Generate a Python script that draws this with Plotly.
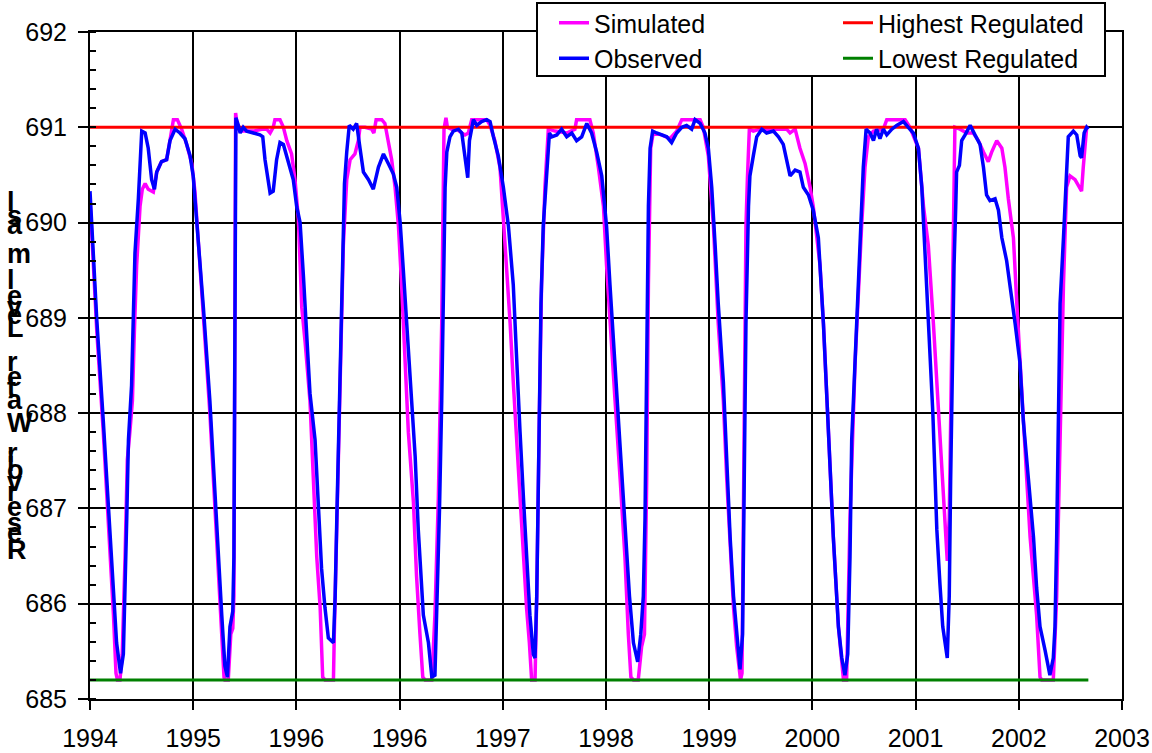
import pandas as pd
import plotly.graph_objects as go

# ---------------- data ----------------
START_DATE = "1994-01-01"
TICK_STEP_DAYS = 365
TICK_LABELS = ["1994", "1995", "1996", "1996", "1997", "1998", "1999", "2000", "2001", "2002", "2003"]

Y_TITLE = "Reservoir Water Level masl"
HIGHEST_REGULATED = 691.0
LOWEST_REGULATED = 685.2

# Observed water level (days since START_DATE, level in masl)
OBS_DAYS = [
    0, 24, 47, 65, 83, 94, 108, 118, 130, 136,
    147, 153, 159, 171, 177, 183, 195, 206, 218, 228,
    236, 253, 271, 283, 301, 318, 336, 354, 365, 377,
    401, 424, 442, 454, 466, 477, 486, 495, 505, 509,
    513, 516, 525, 531, 542, 554, 578, 601, 611, 619,
    637, 648, 660, 672, 684, 696, 707, 719, 731, 743,
    755, 766, 778, 796, 808, 819, 831, 843, 861, 867,
    873, 882, 890, 900, 908, 917, 931, 943, 955, 967,
    985, 1002, 1020, 1038, 1055, 1073, 1085, 1097, 1108, 1120,
    1138, 1150, 1161, 1179, 1197, 1209, 1220, 1226, 1236, 1244,
    1250, 1256, 1262, 1273, 1285, 1303, 1315, 1326, 1336, 1342,
    1350, 1356, 1368, 1385, 1403, 1415, 1427, 1444, 1462, 1480,
    1497, 1509, 1521, 1533, 1544, 1556, 1568, 1574, 1580, 1589,
    1595, 1603, 1615, 1625, 1633, 1651, 1668, 1686, 1704, 1721,
    1739, 1757, 1774, 1792, 1810, 1827, 1839, 1857, 1875, 1892,
    1908, 1922, 1937, 1948, 1957, 1963, 1969, 1975, 1981, 1990,
    2004, 2022, 2040, 2057, 2075, 2093, 2110, 2128, 2140, 2158,
    2175, 2187, 2199, 2211, 2222, 2240, 2252, 2264, 2276, 2287,
    2299, 2308, 2313, 2320, 2329, 2334, 2346, 2358, 2376, 2393,
    2417, 2435, 2452, 2464, 2476, 2494, 2511, 2523, 2541, 2558,
    2576, 2594, 2606, 2617, 2629, 2647, 2659, 2670, 2680, 2688,
    2694, 2700, 2712, 2723, 2735, 2745, 2759, 2771, 2782, 2794,
    2806, 2818, 2836, 2853, 2877, 2894, 2912, 2930, 2942, 2948,
    2965, 2981, 2989, 2995, 3006, 3016, 3032, 3039, 3044, 3050,
    3056, 3062, 3065, 3075, 3083, 3095, 3113, 3130, 3148, 3160,
    3171, 3183, 3201, 3213, 3225, 3242, 3254, 3272, 3289, 3301,
    3319, 3337, 3348, 3360, 3378, 3395, 3407, 3413, 3419, 3425,
    3431, 3443, 3454, 3460, 3478, 3490, 3502, 3507, 3516, 3525,
    3531,
]
OBS_LEVEL = [
    690.33, 688.98, 687.92, 686.98, 686.08, 685.59, 685.27, 685.47, 686.90, 687.72,
    688.29, 688.94, 689.68, 690.25, 690.58, 690.96, 690.94, 690.78, 690.45, 690.35,
    690.53, 690.64, 690.66, 690.86, 690.98, 690.94, 690.88, 690.70, 690.49, 690.04,
    689.11, 688.13, 687.11, 686.49, 685.88, 685.35, 685.23, 685.76, 685.92, 686.49,
    688.94, 691.10, 691.02, 690.94, 691.00, 690.96, 690.94, 690.92, 690.90, 690.66,
    690.31, 690.33, 690.66, 690.84, 690.82, 690.70, 690.58, 690.45, 690.17, 690.00,
    689.43, 688.78, 688.21, 687.72, 686.98, 686.37, 685.96, 685.64, 685.59, 686.08,
    686.90, 688.13, 689.35, 690.41, 690.74, 691.02, 690.98, 691.04, 690.78, 690.53,
    690.45, 690.35, 690.58, 690.72, 690.62, 690.51, 690.37, 690.00, 689.51, 688.94,
    688.00, 687.55, 686.78, 685.88, 685.59, 685.23, 685.25, 685.88, 686.98, 688.13,
    689.35, 690.37, 690.74, 690.90, 690.96, 690.98, 690.94, 690.70, 690.47, 690.86,
    691.02, 691.08, 691.02, 691.06, 691.08, 691.06, 690.90, 690.70, 690.37, 689.96,
    689.35, 688.53, 687.80, 687.11, 686.49, 685.88, 685.47, 685.43, 686.08, 687.72,
    689.15, 689.96, 690.58, 690.94, 690.90, 690.92, 690.98, 690.90, 690.94, 690.86,
    690.90, 691.04, 690.94, 690.74, 690.49, 689.96, 689.35, 688.53, 687.72, 686.90,
    686.08, 685.59, 685.39, 685.68, 686.08, 686.90, 688.33, 690.17, 690.78, 690.96,
    690.94, 690.92, 690.90, 690.84, 690.94, 691.00, 691.02, 690.98, 691.08, 691.04,
    690.94, 690.78, 690.37, 689.76, 689.15, 688.33, 687.51, 686.70, 686.08, 685.68,
    685.31, 685.68, 687.31, 688.94, 690.17, 690.49, 690.70, 690.90, 690.98, 690.94,
    690.96, 690.90, 690.82, 690.66, 690.49, 690.55, 690.53, 690.37, 690.29, 690.13,
    689.84, 688.94, 688.13, 687.31, 686.70, 685.76, 685.43, 685.25, 685.47, 686.49,
    687.72, 688.13, 689.02, 689.88, 690.58, 690.98, 690.94, 690.86, 690.98, 690.88,
    690.98, 690.92, 690.98, 691.02, 691.06, 691.00, 690.94, 690.78, 690.37, 690.00,
    688.98, 688.00, 687.31, 686.78, 686.21, 685.76, 685.43, 686.08, 687.31, 688.53,
    689.55, 690.17, 690.53, 690.60, 690.86, 690.92, 691.02, 690.92, 690.82, 690.58,
    690.29, 690.23, 690.25, 690.13, 689.84, 689.60, 689.35, 688.94, 688.53, 687.92,
    687.31, 686.70, 686.17, 685.76, 685.51, 685.25, 685.43, 685.76, 686.70, 688.13,
    689.15, 689.84, 690.66, 690.90, 690.96, 690.92, 690.70, 690.68, 690.94, 691.00,
    690.98,
]

# Simulated water level (days since START_DATE, level in masl)
SIM_DAYS = [
    0, 24, 47, 65, 83, 92, 97, 106, 114, 124,
    132, 141, 150, 157, 165, 177, 185, 195, 206, 224,
    236, 253, 271, 285, 295, 309, 324, 342, 360, 371,
    383, 401, 424, 442, 454, 466, 474, 477, 489, 498,
    505, 509, 513, 515, 521, 531, 554, 578, 607, 625,
    637, 648, 654, 672, 684, 696, 713, 725, 737, 749,
    761, 778, 790, 802, 814, 823, 831, 861, 864, 873,
    884, 896, 908, 920, 937, 949, 955, 973, 996, 1004,
    1012, 1032, 1043, 1055, 1067, 1079, 1091, 1102, 1114, 1126,
    1144, 1155, 1167, 1177, 1185, 1209, 1220, 1232, 1244, 1252,
    1259, 1264, 1279, 1297, 1315, 1326, 1338, 1350, 1403, 1415,
    1432, 1450, 1462, 1474, 1486, 1497, 1509, 1521, 1533, 1544,
    1554, 1560, 1562, 1574, 1580, 1589, 1597, 1609, 1621, 1645,
    1686, 1715, 1721, 1768, 1780, 1798, 1816, 1827, 1839, 1857,
    1875, 1892, 1904, 1913, 1922, 1939, 1951, 1961, 1969, 1975,
    1983, 1992, 2022, 2051, 2075, 2093, 2158, 2169, 2187, 2205,
    2222, 2240, 2252, 2264, 2276, 2287, 2297, 2301, 2306, 2313,
    2320, 2325, 2332, 2346, 2370, 2464, 2476, 2494, 2511, 2529,
    2547, 2558, 2582, 2594, 2606, 2617, 2629, 2647, 2659, 2665,
    2676, 2688, 2706, 2718, 2729, 2741, 2753, 2771, 2806, 2818,
    2883, 2900, 2930, 2948, 2965, 2983, 2995, 3006, 3018, 3028,
    3032, 3039, 3048, 3054, 3059, 3077, 3101, 3124, 3142, 3160,
    3177, 3189, 3207, 3225, 3236, 3248, 3266, 3278, 3289, 3301,
    3313, 3325, 3337, 3348, 3360, 3366, 3407, 3419, 3431, 3443,
    3454, 3466, 3484, 3507, 3513, 3519, 3525,
]
SIM_LEVEL = [
    690.25, 688.86, 687.80, 686.90, 685.88, 685.27, 685.20, 685.20, 685.47, 686.49,
    687.51, 687.80, 688.13, 688.86, 689.55, 690.17, 690.35, 690.41, 690.35, 690.32,
    690.53, 690.64, 690.66, 690.90, 691.08, 691.08, 690.98, 690.82, 690.62, 690.33,
    689.84, 689.02, 688.00, 686.98, 686.37, 685.68, 685.23, 685.20, 685.20, 685.68,
    685.74, 686.08, 688.94, 691.15, 691.02, 690.96, 690.96, 690.96, 690.98, 690.98,
    690.94, 691.00, 691.08, 691.08, 691.00, 690.86, 690.72, 690.45, 690.04, 689.11,
    688.74, 688.13, 687.31, 686.49, 685.96, 685.23, 685.20, 685.20, 685.68, 686.90,
    688.33, 689.76, 690.45, 690.66, 690.72, 690.86, 691.00, 691.00, 690.98, 690.94,
    691.08, 691.08, 691.04, 690.86, 690.66, 690.37, 689.96, 689.35, 688.53, 687.80,
    687.06, 686.29, 685.68, 685.23, 685.20, 685.20, 685.88, 687.11, 688.94, 690.98,
    691.10, 691.00, 690.98, 690.98, 690.94, 690.92, 690.94, 691.08, 691.08, 691.02,
    690.86, 690.58, 690.04, 689.55, 688.94, 688.33, 687.72, 687.11, 686.49, 685.96,
    685.59, 685.23, 685.20, 685.20, 686.08, 687.92, 689.35, 690.37, 690.98, 690.96,
    690.94, 690.98, 691.08, 691.08, 690.94, 690.58, 690.17, 689.55, 688.94, 688.13,
    687.31, 686.49, 685.68, 685.23, 685.20, 685.20, 685.55, 685.68, 687.31, 689.35,
    690.78, 690.94, 690.92, 690.88, 690.96, 691.08, 691.08, 691.00, 690.70, 689.96,
    688.94, 688.13, 687.31, 686.57, 685.96, 685.55, 685.23, 685.20, 685.27, 688.13,
    689.96, 690.45, 690.98, 690.96, 690.98, 690.98, 690.94, 690.98, 690.78, 690.62,
    690.37, 690.17, 689.55, 688.94, 688.13, 687.31, 686.70, 685.76, 685.35, 685.20,
    685.20, 686.90, 688.53, 689.35, 689.96, 690.58, 690.90, 690.96, 690.98, 691.08,
    691.08, 691.00, 690.78, 690.17, 689.76, 688.94, 688.33, 687.72, 687.11, 686.70,
    686.45, 686.90, 688.53, 690.17, 691.00, 690.98, 690.94, 690.94, 690.86, 690.74,
    690.64, 690.74, 690.86, 690.78, 690.58, 690.25, 689.84, 689.15, 688.53, 687.92,
    687.31, 686.70, 686.21, 685.88, 685.23, 685.20, 685.20, 686.08, 687.72, 689.35,
    690.37, 690.49, 690.45, 690.33, 690.58, 690.78, 691.00,
]

# ---------------- build ----------------
start = pd.Timestamp(START_DATE)
obs_x = start + pd.to_timedelta(OBS_DAYS, unit="D")
sim_x = start + pd.to_timedelta(SIM_DAYS, unit="D")
reg_x = [obs_x[0], obs_x[-1]]
tick_vals = [start + pd.Timedelta(days=TICK_STEP_DAYS * k) for k in range(len(TICK_LABELS))]

FONT = "Liberation Sans, Arial, sans-serif"
W, H = 1152, 753
ML, MR, MT, MB = 90, 30, 32, 54
PW, PH = W - ML - MR, H - MT - MB


def px_x(px):
    return (px - ML) / PW


def px_y(py):
    return (H - MB - py) / PH


fig = go.Figure()
fig.add_trace(go.Scatter(x=sim_x, y=SIM_LEVEL, mode="lines", name="Simulated",
                         line=dict(color="#FF00FF", width=3.5), legend="legend", legendrank=1))
fig.add_trace(go.Scatter(x=reg_x, y=[HIGHEST_REGULATED] * 2, mode="lines", name="Highest Regulated",
                         line=dict(color="#FF0000", width=3), legend="legend2", legendrank=1))
fig.add_trace(go.Scatter(x=obs_x, y=OBS_LEVEL, mode="lines", name="Observed",
                         line=dict(color="#0000FF", width=3.5), legend="legend", legendrank=2))
fig.add_trace(go.Scatter(x=reg_x, y=[LOWEST_REGULATED] * 2, mode="lines", name="Lowest Regulated",
                         line=dict(color="#008000", width=3), legend="legend2", legendrank=2))

legend_style = dict(
    orientation="v", yanchor="top", xanchor="left", y=px_y(0),
    bgcolor="rgba(0,0,0,0)", borderwidth=0, tracegroupgap=0,
    font=dict(family=FONT, size=25, color="black"),
)

fig.update_layout(
    width=W, height=H,
    margin=dict(l=ML, r=MR, t=MT, b=MB, pad=0, autoexpand=False),
    paper_bgcolor="white", plot_bgcolor="white",
    font=dict(family=FONT, size=25, color="black"),
    showlegend=True,
    legend=dict(x=px_x(554), **legend_style),
    legend2=dict(x=px_x(838), **legend_style),
    shapes=[dict(type="rect", xref="paper", yref="paper",
                 x0=px_x(537), x1=px_x(1105), y0=px_y(76), y1=px_y(3),
                 fillcolor="white", line=dict(color="black", width=2), layer="above")],
)

fig.update_xaxes(
    type="date", range=[tick_vals[0], tick_vals[-1]],
    tickmode="array", tickvals=tick_vals, ticktext=TICK_LABELS,
    showgrid=True, gridcolor="black", gridwidth=2,
    showline=True, linecolor="black", linewidth=2, mirror=True,
    ticks="outside", ticklen=9, tickwidth=2, tickcolor="black",
    ticklabelstandoff=7,
    tickfont=dict(family=FONT, size=25, color="black"),
    zeroline=False,
)
fig.update_yaxes(
    range=[685, 692], tickmode="linear", tick0=685, dtick=1,
    showgrid=True, gridcolor="black", gridwidth=2,
    showline=True, linecolor="black", linewidth=2, mirror=True,
    ticks="outside", ticklen=10, tickwidth=2, tickcolor="black",
    ticklabelstandoff=6,
    tickfont=dict(family=FONT, size=25, color="black"),
    minor=dict(dtick=0.2, ticks="inside", ticklen=6, tickwidth=2, tickcolor="black", showgrid=False),
    zeroline=False,
)

# stacked, reversed y-axis title letters (as in the original rendering)
letters = [c for c in Y_TITLE[::-1] if c != " "]
letter_centers = [202, 216, 225, 254, 280, 296, 307, 315, 328, 362, 377, 388, 400,
                  423, 453, 462, 470, 482, 492, 507, 523, 533, 550]
for ch, cy in zip(letters, letter_centers):
    fig.add_annotation(text="<b>%s</b>" % ch, xref="paper", yref="paper",
                       x=px_x(5), y=px_y(cy), xanchor="left", yanchor="middle",
                       showarrow=False, font=dict(family=FONT, size=27, color="black"))

fig.write_html("out.html")
